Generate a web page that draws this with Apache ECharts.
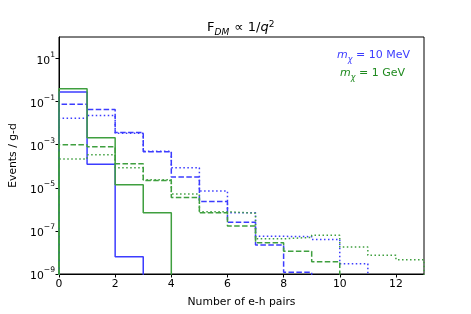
<!DOCTYPE html>
<html>
<head>
<meta charset="utf-8">
<script src="https://cdn.jsdelivr.net/npm/echarts@6/dist/echarts.min.js"></script>
<style>html,body{margin:0;padding:0;background:#fff;}#c{width:471px;height:314px;}</style>
</head>
<body>
<div id="c"></div>
<script>
// Bin counts (events / g-d) per e-h pair bin [i, i+1)
const blueSolid  = [0.28, 1.25e-4, 6.3e-9];
const blueDashed = [0.076, 0.043, 3.7e-3, 4.7e-4, 3.2e-5, 2.3e-6, 2.5e-7, 2.2e-8, 1.2e-9];
const blueDotted = [0.017, 0.023, 3.4e-3, 5.0e-4, 8.5e-5, 7.1e-6, 6.9e-7, 5.6e-8, 5.4e-8, 4.0e-8, 3.0e-9];
const greenSolid  = [0.40, 2.1e-3, 1.4e-5, 6.9e-7];
const greenDashed = [1.0e-3, 8.0e-4, 1.3e-4, 2.2e-5, 3.6e-6, 6.9e-7, 1.7e-7, 2.8e-8, 1.15e-8, 3.7e-9];
const greenDotted = [2.2e-4, 3.4e-4, 8.5e-5, 2.4e-5, 5.2e-6, 7.8e-7, 6.6e-7, 4.3e-8, 5.0e-8, 6.3e-8, 1.8e-8, 7.4e-9, 4.6e-9];
const xTicks = [0, 2, 4, 6, 8, 10, 12];
const yTicks = [1e-9, 1e-7, 1e-5, 1e-3, 1e-1, 1e1];

const FLOOR = 1e-12;
const BLUE = '#3c3cff', GREEN = '#3f9f3f', GREEN_TXT = '#1f8a1f';
function steps(vals) {
  const pts = [[0, FLOOR]];
  vals.forEach((v, i) => pts.push([i, v]));
  const n = vals.length;
  pts.push([n, vals[n - 1]]);
  pts.push([n, FLOOR]);
  return pts;
}
function ser(vals, color, type) {
  return {
    type: 'line', step: 'end', data: steps(vals), showSymbol: false, symbol: 'none',
    clip: true, animation: false,
    lineStyle: { color: color, width: 1.5, type: type }
  };
}
const chart = echarts.init(document.getElementById('c'), null, { renderer: 'canvas' });
const FONT = 'DejaVu Sans';
const FS = 10.8;
chart.setOption({
  animation: false,
  textStyle: { fontFamily: FONT },
  grid: { left: 59, right: 47, top: 37, bottom: 40, show: true, borderColor: '#000', borderWidth: 1, backgroundColor: 'transparent' },
  xAxis: {
    type: 'value', min: 0, max: 13, interval: 2,
    axisLine: { lineStyle: { color: '#000', width: 1 } },
    axisTick: { show: true, length: 3.5, lineStyle: { color: '#000' }, customValues: xTicks },
    axisLabel: { color: '#000', fontSize: FS, fontFamily: FONT, margin: 5, customValues: xTicks },
    splitLine: { show: false },
    name: 'Number of e-h pairs', nameLocation: 'middle', nameGap: 23,
    nameTextStyle: { color: '#000', fontSize: FS, fontFamily: FONT }
  },
  yAxis: {
    type: 'log', logBase: 10, min: 1e-9, max: 1e2,
    axisLine: { show: true, lineStyle: { color: '#000', width: 1 } },
    axisTick: { show: true, length: 3.5, lineStyle: { color: '#000' }, customValues: yTicks },
    axisLabel: {
      color: '#000', fontFamily: FONT, margin: 4, customValues: yTicks,
      formatter: function (v) {
        const e = Math.round(Math.log10(v));
        return '{b|10}{e|' + (e < 0 ? '\u2212' + (-e) : String(e)) + '}';
      },
      rich: {
        b: { fontSize: FS, fontFamily: FONT, color: '#000', lineHeight: 16, verticalAlign: 'bottom' },
        e: { fontSize: 7.6, fontFamily: FONT, color: '#000', lineHeight: 10, verticalAlign: 'top' }
      }
    },
    splitLine: { show: false },
    minorTick: { show: false },
    name: 'Events / g-d', nameLocation: 'middle', nameGap: 39, nameRotate: 90,
    nameTextStyle: { color: '#000', fontSize: FS, fontFamily: FONT }
  },
  series: [
    ser(blueSolid, BLUE, 'solid'),
    ser(blueDashed, BLUE, [5.5, 2.4]),
    ser(blueDotted, BLUE, [1.5, 2.5]),
    ser(greenSolid, GREEN, 'solid'),
    ser(greenDashed, GREEN, [5.5, 2.4]),
    ser(greenDotted, GREEN, [1.5, 2.5])
  ],
  graphic: [
    {
      type: 'text', left: 207, top: 20, silent: true,
      style: {
        text: '{n|F}{s|DM}{n| \u221d 1/}{i|q}{p|2}',
        rich: {
          n: { fontSize: 13, fontFamily: FONT, fill: '#000', lineHeight: 17, verticalAlign: 'top', padding: [1, 0, 0, 0] },
          s: { fontSize: 9, fontFamily: FONT, fontStyle: 'italic', fill: '#000', lineHeight: 17, verticalAlign: 'bottom', padding: [0, 1, 0, 0] },
          i: { fontSize: 13, fontFamily: FONT, fontStyle: 'italic', fill: '#000', lineHeight: 17, verticalAlign: 'top', padding: [1, 0, 0, 0] },
          p: { fontSize: 9, fontFamily: FONT, fill: '#000', lineHeight: 17, verticalAlign: 'top' }
        }
      }
    },
    {
      type: 'text', left: 337, top: 49, silent: true,
      style: {
        text: '{i|m}{s|\u03c7}{n| = 10 MeV}',
        rich: {
          i: { fontSize: 11, fontFamily: FONT, fontStyle: 'italic', fill: BLUE, lineHeight: 15, verticalAlign: 'top', padding: [1, 0, 0, 0] },
          s: { fontSize: 8, fontFamily: FONT, fontStyle: 'italic', fill: BLUE, lineHeight: 15, verticalAlign: 'bottom' },
          n: { fontSize: 11, fontFamily: FONT, fill: BLUE, lineHeight: 15, verticalAlign: 'top', padding: [1, 0, 0, 0] }
        }
      }
    },
    {
      type: 'text', left: 340, top: 67, silent: true,
      style: {
        text: '{i|m}{s|\u03c7}{n| = 1 GeV}',
        rich: {
          i: { fontSize: 11, fontFamily: FONT, fontStyle: 'italic', fill: GREEN_TXT, lineHeight: 15, verticalAlign: 'top', padding: [1, 0, 0, 0] },
          s: { fontSize: 8, fontFamily: FONT, fontStyle: 'italic', fill: GREEN_TXT, lineHeight: 15, verticalAlign: 'bottom' },
          n: { fontSize: 11, fontFamily: FONT, fill: GREEN_TXT, lineHeight: 15, verticalAlign: 'top', padding: [1, 0, 0, 0] }
        }
      }
    }
  ]
});
</script>
</body>
</html>
